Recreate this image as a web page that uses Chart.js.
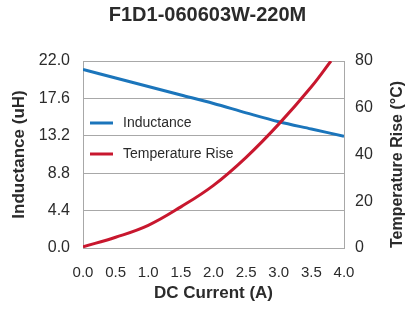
<!DOCTYPE html>
<html><head><meta charset="utf-8">
<script src="https://cdn.jsdelivr.net/npm/chart.js@4"></script>
<style>html,body{margin:0;padding:0;background:#fff}#wrap{width:405px;height:309px}</style>
</head><body><div id="wrap"><canvas id="c" width="405" height="309"></canvas></div>
<script>
const chartTitle = 'F1D1-060603W-220M';
const currentL = [0, 0.5, 1.0, 1.5, 2.0, 2.5, 3.0, 3.5, 4.0];
const inductance = [21.0, 20.0, 19.0, 18.0, 17.0, 15.9, 14.85, 14.0, 13.15];
const currentT = [0, 0.5, 1.0, 1.5, 2.0, 2.5, 3.0, 3.5, 3.8];
const tempRise = [0.5, 4.6, 9.7, 17.6, 26.8, 38.8, 53.0, 69.0, 80.0];
const xTicks = [0, 0.5, 1.0, 1.5, 2.0, 2.5, 3.0, 3.5, 4.0];
const yTicksL = [0, 4.4, 8.8, 13.2, 17.6, 22.0];
const yTicksR = [0, 20, 40, 60, 80];
const seriesNames = ['Inductance', 'Temperature Rise'];
const xTitle = 'DC Current (A)';
const yLTitle = 'Inductance (uH)';
const yRTitle = 'Temperature Rise (°C)';

const FF = '"Liberation Sans", Arial, Helvetica, sans-serif';
const BLUE = '#1b75bb';
const RED = '#c8172e';
const GRID = '#a8a8a8';
const TXT = '#2b2b2b';

const legendPlugin = {
  id: 'inlegend',
  afterDatasetsDraw(chart) {
    const {ctx, chartArea} = chart;
    const ys = [chartArea.top + 62, chartArea.top + 93];
    chart.data.datasets.forEach((ds, i) => {
      ctx.save();
      ctx.strokeStyle = ds.borderColor; ctx.lineWidth = 3;
      ctx.beginPath();
      ctx.moveTo(chartArea.left + 7, ys[i]);
      ctx.lineTo(chartArea.left + 30, ys[i]);
      ctx.stroke();
      ctx.fillStyle = TXT;
      ctx.font = '14px ' + FF;
      ctx.textBaseline = 'middle';
      ctx.fillText(ds.label, chartArea.left + 40, ys[i]);
      ctx.restore();
    });
  }
};

const rightTitlePlugin = {
  id: 'rtitle',
  afterDraw(chart) {
    const {ctx, chartArea} = chart;
    ctx.save();
    ctx.translate(chart.width - 7.5, (chartArea.top + chartArea.bottom) / 2 + 10);
    ctx.rotate(-Math.PI / 2);
    ctx.font = 'bold 16px ' + FF;
    ctx.fillStyle = TXT;
    ctx.textAlign = 'center';
    ctx.textBaseline = 'middle';
    ctx.fillText(yRTitle, 0, 0);
    ctx.restore();
  }
};

new Chart(document.getElementById('c'), {
  type: 'line',
  data: {
    datasets: [
      {
        label: seriesNames[0],
        data: currentL.map((x, i) => ({x, y: inductance[i]})),
        borderColor: BLUE, backgroundColor: BLUE, borderWidth: 3,
        pointRadius: 0, cubicInterpolationMode: 'monotone',
        yAxisID: 'yL', order: 1
      },
      {
        label: seriesNames[1],
        data: currentT.map((x, i) => ({x, y: tempRise[i]})),
        borderColor: RED, backgroundColor: RED, borderWidth: 3,
        pointRadius: 0, tension: 0.4,
        yAxisID: 'yR', order: 0
      }
    ]
  },
  options: {
    responsive: false,
    animation: false,
    devicePixelRatio: 1,
    layout: {padding: {left: 10, right: 0, top: 0, bottom: 0}},
    plugins: {
      legend: {display: false},
      tooltip: {enabled: false},
      title: {
        display: true, text: chartTitle, color: TXT,
        font: {family: FF, size: 20, weight: 'bold', lineHeight: 1.2},
        padding: {top: 3.5, bottom: 33.5}
      }
    },
    scales: {
      x: {
        type: 'linear', min: 0, max: 4,
        afterBuildTicks(s) { s.ticks = xTicks.map(v => ({value: v})); },
        afterFit(s) { s.height = 61; },
        ticks: {
          color: TXT, font: {family: FF, size: 15}, padding: 16,
          maxRotation: 0, autoSkip: false,
          callback: v => Number(v).toFixed(1)
        },
        grid: {display: false, drawTicks: false},
        border: {display: false},
        title: {
          display: true, text: xTitle, color: TXT,
          font: {family: FF, size: 17, weight: 'bold', lineHeight: 1.2},
          padding: {top: 0, bottom: 5}
        }
      },
      yL: {
        type: 'linear', position: 'left', min: 0, max: 22,
        afterBuildTicks(s) { s.ticks = yTicksL.map(v => ({value: v})); },
        afterFit(s) { s.width = 73; },
        ticks: {
          color: TXT, font: {family: FF, size: 16}, padding: 13,
          callback: v => Number(v).toFixed(1)
        },
        grid: {color: GRID, lineWidth: 1, drawTicks: false},
        border: {display: true, color: GRID, width: 1},
        title: {
          display: true, text: yLTitle, color: TXT,
          font: {family: FF, size: 17, weight: 'bold', lineHeight: 1},
          padding: {top: 0.5, bottom: 0.5}
        }
      },
      yR: {
        type: 'linear', position: 'right', min: 0, max: 80,
        afterBuildTicks(s) { s.ticks = yTicksR.map(v => ({value: v})); },
        afterFit(s) { s.width = 61; },
        ticks: {
          color: TXT, font: {family: FF, size: 16}, padding: 11,
          callback: v => String(v)
        },
        grid: {display: false, drawTicks: false},
        border: {display: true, color: GRID, width: 1}
      }
    }
  },
  plugins: [legendPlugin, rightTitlePlugin]
});
</script>
</body></html>
